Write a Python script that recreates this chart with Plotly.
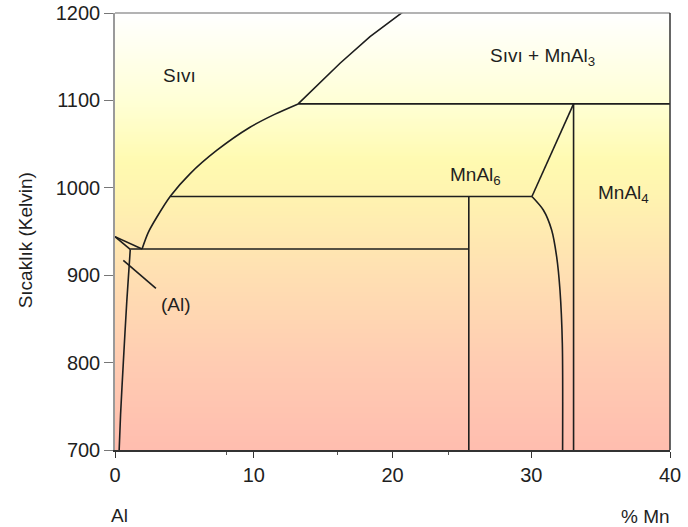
import numpy as np
import plotly.graph_objects as go

# Al-Mn phase diagram (Al-rich side): composition in % Mn, temperature in K
liq_low_x = [0.0, 1.95]
liq_low_y = [944, 930]

liquidus_x = [1.95, 2.4, 3.0, 4.0, 5.4, 7.35, 9.7, 11.5, 13.2]
liquidus_y = [930, 949, 966, 990.6, 1016, 1043, 1069, 1084, 1096]

liquidus_hi_x = [13.2, 14.77, 16.22, 18.38, 20.78]
liquidus_hi_y = [1096, 1119.6, 1142.5, 1172.9, 1201.5]

solidus_x = [0.0, 1.1]
solidus_y = [944, 929.5]

al_solvus_x = [1.1, 0.85, 0.6, 0.4, 0.3]
al_solvus_y = [929.5, 870, 800, 740, 700]

eutectic_x = [1.1, 25.5]
eutectic_y = [930, 930]

mnal6_x = [25.5, 25.5]
mnal6_y = [990, 700]

peritectic1_x = [4.0, 30.05]
peritectic1_y = [990, 990]

peritectic2_x = [13.2, 40.0]
peritectic2_y = [1096, 1096]

mnal6_liq_x = [30.05, 33.05]
mnal6_liq_y = [990, 1096]

mnal6_solvus_x = [30.05, 30.87, 31.47, 31.83, 32.07, 32.24, 32.26]
mnal6_solvus_y = [990, 974.6, 951.7, 921.2, 883, 822, 700]

mnal4_x = [33.05, 33.05]
mnal4_y = [1096, 700]

pointer_x = [0.6, 2.95]
pointer_y = [917, 885]

# background shading by temperature
bg_temps = np.linspace(700, 1200, 101)
bg_x = [0, 40]
bg_stops = [
    [0.00, "#FFBDAF"],
    [0.20, "#FFCCB2"],
    [0.40, "#FFDFB2"],
    [0.58, "#FFF3B0"],
    [0.66, "#FFFAB0"],
    [0.80, "#FFFFD6"],
    [1.00, "#FFFFFF"],
]

region_labels = [
    dict(x=4.65, y=1128, text="Sıvı"),
    dict(x=30.8, y=1150, text="Sıvı + MnAl<sub>3</sub>"),
    dict(x=25.95, y=1014, text="MnAl<sub>6</sub>"),
    dict(x=36.65, y=993, text="MnAl<sub>4</sub>"),
    dict(x=4.4, y=867, text="(Al)"),
]

x_ticks = [0, 10, 20, 30, 40]
y_ticks = [700, 800, 900, 1000, 1100, 1200]

FONT = "Liberation Sans, Arial, sans-serif"
FS = 19
TICK_FS = 20
INK = "#1f1f1f"
LINE = "#1e1e1e"

fig = go.Figure()

fig.add_trace(go.Heatmap(
    x=bg_x, y=bg_temps,
    z=[[t, t] for t in bg_temps],
    colorscale=bg_stops, zmin=700, zmax=1200,
    zsmooth="best", showscale=False, hoverinfo="skip",
))

straight = [
    (liq_low_x, liq_low_y), (liquidus_hi_x, liquidus_hi_y), (solidus_x, solidus_y),
    (eutectic_x, eutectic_y), (mnal6_x, mnal6_y),
    (peritectic1_x, peritectic1_y), (peritectic2_x, peritectic2_y),
    (mnal6_liq_x, mnal6_liq_y), (mnal4_x, mnal4_y), (pointer_x, pointer_y),
]
curved = [
    (liquidus_x, liquidus_y), (al_solvus_x, al_solvus_y), (mnal6_solvus_x, mnal6_solvus_y),
]
for sx, sy in straight:
    fig.add_trace(go.Scatter(
        x=sx, y=sy, mode="lines", line=dict(color=LINE, width=1.6),
        showlegend=False, hoverinfo="skip",
    ))
for sx, sy in curved:
    fig.add_trace(go.Scatter(
        x=sx, y=sy, mode="lines",
        line=dict(color=LINE, width=1.6, shape="spline", smoothing=0.8),
        showlegend=False, hoverinfo="skip",
    ))

for lab in region_labels:
    fig.add_annotation(x=lab["x"], y=lab["y"], text=lab["text"], showarrow=False,
                       xanchor="center", yanchor="middle",
                       font=dict(family=FONT, size=FS, color=INK))

fig.add_annotation(xref="paper", yref="paper", x=-0.162, y=0.48, text="Sıcaklık (Kelvin)",
                   textangle=-90, showarrow=False, xanchor="center", yanchor="middle",
                   font=dict(family=FONT, size=FS, color=INK))
fig.add_annotation(xref="paper", yref="paper", x=0.009, y=-0.149, text="Al",
                   showarrow=False, xanchor="center", yanchor="middle",
                   font=dict(family=FONT, size=FS, color=INK))
fig.add_annotation(xref="paper", yref="paper", x=0.955, y=-0.153, text="% Mn",
                   showarrow=False, xanchor="center", yanchor="middle",
                   font=dict(family=FONT, size=FS, color=INK))

# frame: top grey, right dark
fig.add_shape(type="line", xref="paper", yref="paper", x0=0, x1=1, y0=1, y1=1,
              line=dict(color="#9a9a9a", width=1.5))
fig.add_shape(type="line", xref="paper", yref="paper", x0=1, x1=1, y0=0, y1=1,
              line=dict(color="#333333", width=1.5))

fig.update_layout(
    width=688, height=527,
    margin=dict(l=115, r=18, t=13, b=77),
    paper_bgcolor="white", plot_bgcolor="white",
    font=dict(family=FONT, size=FS, color=INK),
    xaxis=dict(range=[0, 40], tickvals=x_ticks, showgrid=False, zeroline=False,
               automargin=False,
               showline=True, linecolor="#333333", linewidth=1.5,
               ticks="outside", ticklen=6, tickcolor="#333333",
               minor=dict(tickvals=[8, 16, 24], ticks="outside", ticklen=3, tickcolor="#555555"),
               tickfont=dict(family=FONT, size=TICK_FS, color=INK)),
    yaxis=dict(range=[700, 1200], tickvals=y_ticks, showgrid=False, zeroline=False,
               automargin=False,
               showline=True, linecolor="#9a9a9a", linewidth=1.5,
               ticks="outside", ticklen=9, tickcolor="#777777",
               tickfont=dict(family=FONT, size=TICK_FS, color=INK)),
)

fig.write_html("out.html")
